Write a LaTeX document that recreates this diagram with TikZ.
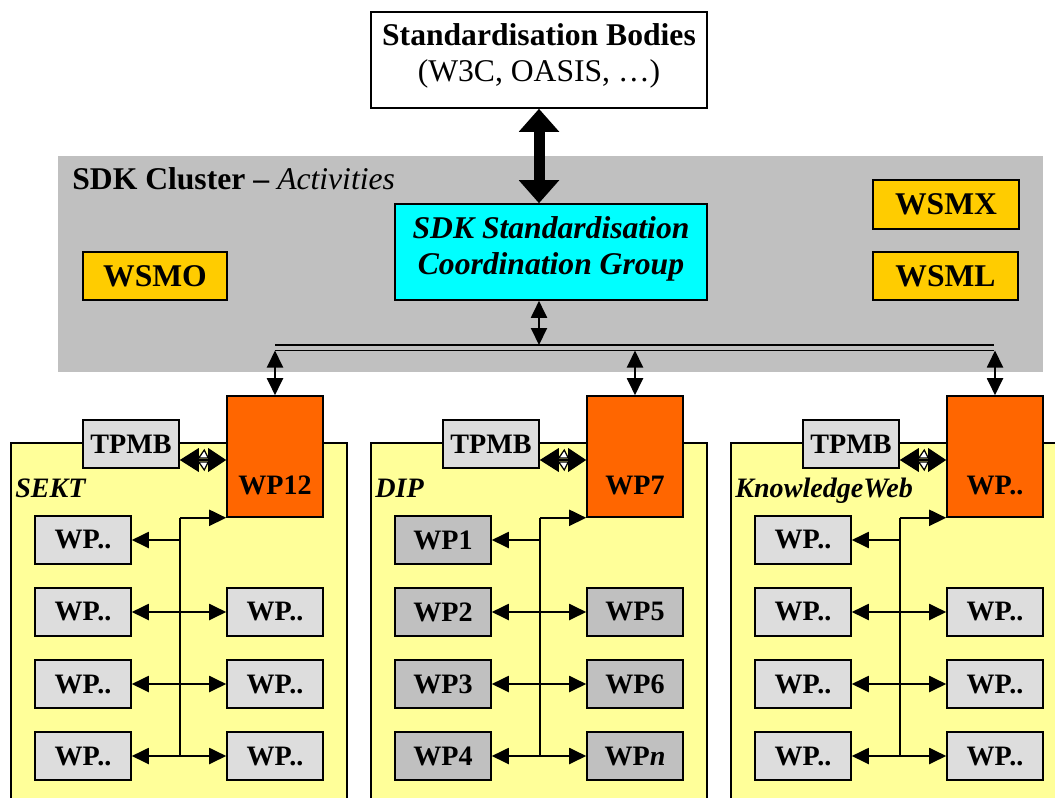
\documentclass[tikz,border=0pt]{standalone}
\usepackage{fontspec}
\setmainfont{Liberation Serif}
\usetikzlibrary{arrows.meta,calc}
\definecolor{clgray}{HTML}{C0C0C0}
\definecolor{lgray}{HTML}{DDDDDD}
\definecolor{dgray}{HTML}{C0C0C0}
\definecolor{orng}{HTML}{FF6600}
\definecolor{cyn}{HTML}{00FFFF}
\definecolor{ylw}{HTML}{FFFF99}
\definecolor{goldc}{HTML}{FFCC00}
\begin{document}
\begin{tikzpicture}[x=0.02cm,y=-0.02cm,
  box/.style={draw=black, line width=0.9pt, inner sep=0pt, align=center},
  big/.style={font=\fontsize{18}{21}\selectfont},
  bigb/.style={font=\fontsize{18}{21}\selectfont\bfseries},
  smallb/.style={font=\fontsize{16}{19}\selectfont\bfseries},
  wpbox/.style={box, smallb, minimum width=1.92cm, minimum height=0.96cm},
  conn/.style={line width=1.1pt, >={Triangle[length=0.34cm,width=0.32cm]}},
  thick arrow/.style={line width=0.22cm, {Triangle[length=0.46cm,width=0.78cm]}-{Triangle[length=0.46cm,width=0.78cm]}}
]
\useasboundingbox (0,0) rectangle (1055,798);
\clip (0,0) rectangle (1055,798);
\fill[white] (0,0) rectangle (1055,798);

% SDK cluster background
\fill[clgray] (58,156) rectangle (1043,372);
\node[anchor=base west, inner sep=0pt, big] (cltitle) at (72,189) {\textbf{SDK Cluster –} \textit{Activities}};

% top box
\node[box, big, fill=white, minimum width=6.72cm, minimum height=1.92cm] (std) at (539,60)
  {\textbf{Standardisation Bodies}\\(W3C, OASIS, …)\vrule width 0pt depth 8.5pt};

% coordination group
\node[box, font=\fontsize{18}{21}\selectfont\bfseries\itshape, fill=cyn, minimum width=6.24cm, minimum height=1.92cm] (sdk) at (551,252)
  {SDK Standardisation\\Coordination Group\vrule width 0pt depth 7.4pt};

\node[box, bigb, fill=goldc, minimum width=2.88cm, minimum height=0.96cm] (wsmo) at (155,276) {WSMO};
\node[box, bigb, fill=goldc, minimum width=2.92cm, minimum height=0.98cm] (wsmx) at (946,204.5) {WSMX};
\node[box, bigb, fill=goldc, minimum width=2.90cm, minimum height=0.96cm] (wsml) at (945.5,276) {WSML};

\draw[thick arrow] (std.south) -- (std.south |- sdk.north);

% bus
\coordinate (busAL) at (275,345);
\coordinate (busAR) at (994,345);
\coordinate (busBL) at (275,350.5);
\coordinate (busBR) at (994,350.5);
\draw[conn] (busAL) -- (busAR);
\draw[conn] (busBL) -- (busBR);
\draw[conn,<->] (std.south |- sdk.south) -- (std.south |- busAL);

% panels
\foreach \ox/\pn/\ttl/\tp/\fillc/\qa/\qb/\qc/\qd/\qe/\qf/\qg in {
  0/s/SEKT/WP12/lgray/WP../WP../WP../WP../WP../WP../WP..,
  360/d/DIP/WP7/dgray/WP1/WP2/WP3/WP4/WP5/WP6/{WP\textit{n}},
  720/k/KnowledgeWeb/WP../lgray/WP../WP../WP../WP../WP../WP../WP..}{
  \draw[line width=0.9pt, fill=ylw] (11+\ox,443) rectangle (347+\ox,840);
  \node[wpbox, fill=lgray] (tp\pn) at (131+\ox,444) {TPMB};
  \node[box, smallb, fill=orng, minimum width=1.92cm, minimum height=2.42cm,
        text height=1.98cm, text depth=0.44cm] (or\pn) at (275+\ox,456.5) {\tp};
  \node[anchor=base west, inner sep=0pt, font=\fontsize{16}{19}\selectfont\bfseries\itshape] (ti\pn) at (15+\ox,497) {\ttl};
  \node[wpbox, fill=\fillc] (la\pn) at (83+\ox,540) {\qa};
  \node[wpbox, fill=\fillc] (lb\pn) at (83+\ox,612) {\qb};
  \node[wpbox, fill=\fillc] (lc\pn) at (83+\ox,684) {\qc};
  \node[wpbox, fill=\fillc] (ld\pn) at (83+\ox,756) {\qd};
  \node[wpbox, fill=\fillc] (rb\pn) at (275+\ox,612) {\qe};
  \node[wpbox, fill=\fillc] (rc\pn) at (275+\ox,684) {\qf};
  \node[wpbox, fill=\fillc] (rd\pn) at (275+\ox,756) {\qg};
  % connectors
  \coordinate (j\pn) at (tp\pn.east |- or\pn.south);
  \draw[conn,->] (j\pn) -- (or\pn.south west);
  \draw[conn] (j\pn) -- (j\pn |- ld\pn.center);
  \draw[conn,->] (j\pn |- la\pn.center) -- (la\pn.east);
  \draw[conn,<->] (lb\pn.east) -- (rb\pn.west);
  \draw[conn,<->] (lc\pn.east) -- (rc\pn.west);
  \draw[conn,<->] (ld\pn.east) -- (rd\pn.west);
  % bus drop
  \draw[conn,<->] (or\pn.north |- busBL) -- (or\pn.north);
  % double arrow TPMB <-> WP
  \coordinate (dl\pn) at ($(tp\pn.east)+(0,16)$);
  \coordinate (dr\pn) at (or\pn.west |- dl\pn);
  \fill (dl\pn) -- ++(19,-12) -- ++(0,24) -- cycle;
  \fill (dr\pn) -- ++(-18,-12) -- ++(0,24) -- cycle;
  \draw[line width=1.1pt] ($(dl\pn)+(18,0)$) -- ($(dr\pn)+(-17,0)$);
  \draw[fill=white, line width=0.7pt] ($(dl\pn)+(19,-2)$) -- ($(dr\pn)+(-18,-2)$) -- ($(dl\pn)+(24.5,-10)$) -- cycle;
  \draw[fill=white, line width=0.7pt] ($(dl\pn)+(19,2)$) -- ($(dr\pn)+(-18,2)$) -- ($(dl\pn)+(24.5,10)$) -- cycle;
}
\end{tikzpicture}
\end{document}
